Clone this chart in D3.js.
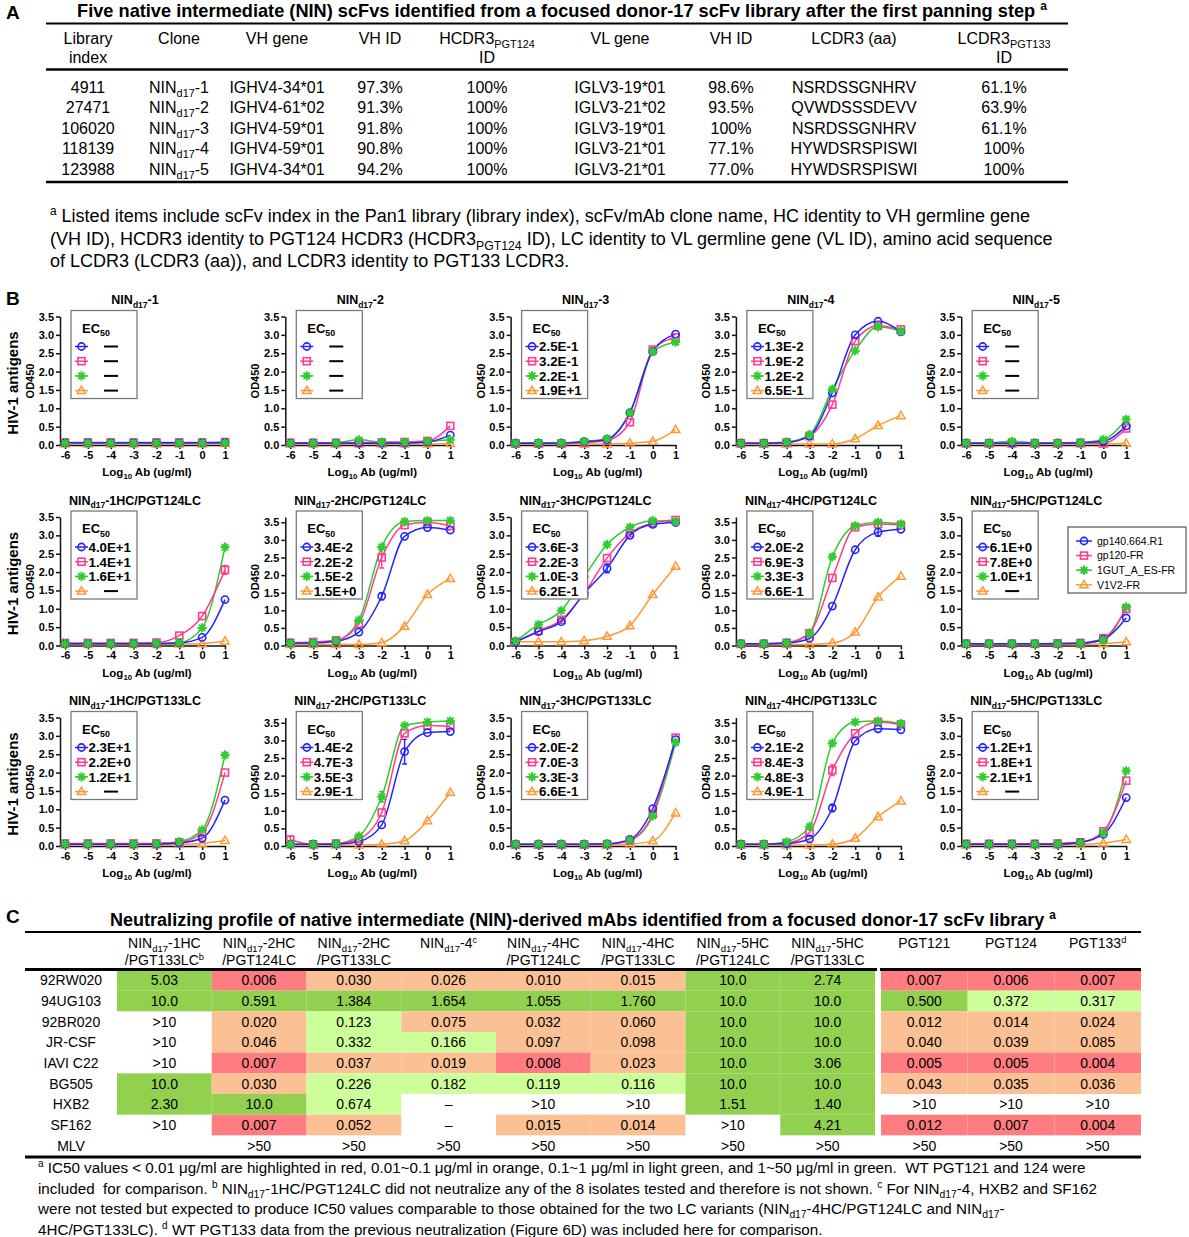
<!DOCTYPE html>
<html>
<head>
<meta charset="utf-8">
<script src="https://cdn.jsdelivr.net/npm/d3@7"></script>
<style>
  body { margin: 0; background: #fff; }
  svg { font-family: "Liberation Sans", Arial, sans-serif; }
  text { white-space: pre; }
</style>
</head>
<body>
<div id="fig"></div>
<script>
// ---------- Panel A data ----------
var libIndex = ["4911", "27471", "106020", "118139", "123988"];
var cloneNo = ["1", "2", "3", "4", "5"];
var vhGenes = ["IGHV4-34*01", "IGHV4-61*02", "IGHV4-59*01", "IGHV4-59*01", "IGHV4-34*01"];
var vhIds = ["97.3%", "91.3%", "91.8%", "90.8%", "94.2%"];
var hcdr3Ids = ["100%", "100%", "100%", "100%", "100%"];
var vlGenes = ["IGLV3-19*01", "IGLV3-21*02", "IGLV3-19*01", "IGLV3-21*01", "IGLV3-21*01"];
var vlIds = ["98.6%", "93.5%", "100%", "77.1%", "77.0%"];
var lcdr3Seqs = ["NSRDSSGNHRV", "QVWDSSSDEVV", "NSRDSSGNHRV", "HYWDSRSPISWI", "HYWDSRSPISWI"];
var lcdr3Ids = ["61.1%", "63.9%", "61.1%", "100%", "100%"];
var headersA = [
  [["Library"], ["index"]], [["Clone"]], [["VH gene"]], [["VH ID"]],
  [["HCDR3", "_PGT124"], ["ID"]], [["VL gene"]], [["VH ID"]], [["LCDR3 (aa)"]],
  [["LCDR3", "_PGT133"], ["ID"]]
];

// ---------- Panel B data ----------
var logDoses = [-6, -5, -4, -3, -2, -1, 0, 1];
var antigens = ["gp140.664.R1", "gp120-FR", "1GUT_A_ES-FR", "V1V2-FR"];
var panelTitles = ["-1", "-2", "-3", "-4", "-5",
  "-1HC/PGT124LC", "-2HC/PGT124LC", "-3HC/PGT124LC", "-4HC/PGT124LC", "-5HC/PGT124LC",
  "-1HC/PGT133LC", "-2HC/PGT133LC", "-3HC/PGT133LC", "-4HC/PGT133LC", "-5HC/PGT133LC"];
var yMaxes = [3.5, 3.5, 3.5, 3.5, 3.5, 3.5, 3.65, 3.5, 3.65, 3.5, 3.5, 3.65, 3.5, 3.65, 3.5];
var ec50 = [
  [null, null, null, null],
  [null, null, null, null],
  ["2.5E-1", "3.2E-1", "2.2E-1", "1.9E+1"],
  ["1.3E-2", "1.9E-2", "1.2E-2", "6.5E-1"],
  [null, null, null, null],
  ["4.0E+1", "1.4E+1", "1.6E+1", null],
  ["3.4E-2", "2.2E-2", "1.5E-2", "1.5E+0"],
  ["3.6E-3", "2.2E-3", "1.0E-3", "6.2E-1"],
  ["2.0E-2", "6.9E-3", "3.3E-3", "6.6E-1"],
  ["6.1E+0", "7.8E+0", "1.0E+1", null],
  ["2.3E+1", "2.2E+0", "1.2E+1", null],
  ["1.4E-2", "4.7E-3", "3.5E-3", "2.9E-1"],
  ["2.0E-2", "7.0E-3", "3.3E-3", "6.6E-1"],
  ["2.1E-2", "8.4E-3", "4.8E-3", "4.9E-1"],
  ["1.2E+1", "1.8E+1", "2.1E+1", null]
];
// OD450 per panel: [gp140, gp120, 1GUT, V1V2], each at logDoses
var od = [
  [[0.06,0.06,0.06,0.06,0.06,0.06,0.06,0.07],[0.07,0.07,0.07,0.07,0.07,0.07,0.07,0.08],[0.05,0.05,0.05,0.05,0.05,0.05,0.05,0.06],[0.03,0.03,0.03,0.03,0.03,0.03,0.03,0.04]],
  [[0.05,0.05,0.05,0.05,0.05,0.05,0.08,0.27],[0.06,0.06,0.06,0.07,0.07,0.08,0.11,0.52],[0.05,0.05,0.06,0.14,0.08,0.08,0.10,0.14],[0.03,0.03,0.03,0.03,0.03,0.03,0.03,0.04]],
  [[0.05,0.05,0.05,0.09,0.15,0.88,2.55,3.02],[0.04,0.04,0.04,0.06,0.12,0.62,2.60,2.93],[0.05,0.06,0.06,0.10,0.17,0.88,2.54,2.80],[0.03,0.03,0.03,0.03,0.03,0.05,0.10,0.42]],
  [[0.05,0.05,0.07,0.25,1.42,3.00,3.37,3.08],[0.05,0.05,0.07,0.24,1.10,2.83,3.25,3.15],[0.05,0.05,0.08,0.28,1.52,2.57,3.22,3.10],[0.03,0.03,0.03,0.03,0.03,0.17,0.53,0.80]],
  [[0.05,0.05,0.05,0.05,0.05,0.06,0.10,0.52],[0.05,0.05,0.05,0.05,0.05,0.06,0.05,0.45],[0.06,0.06,0.10,0.06,0.06,0.07,0.15,0.70],[0.03,0.03,0.03,0.03,0.03,0.03,0.03,0.05]],
  [[0.05,0.05,0.05,0.05,0.05,0.07,0.22,1.25],[0.07,0.07,0.07,0.07,0.08,0.27,0.80,2.06],[0.05,0.05,0.05,0.05,0.06,0.08,0.48,2.68],[0.03,0.03,0.03,0.03,0.03,0.04,0.05,0.12]],
  [[0.07,0.07,0.12,0.38,1.40,3.10,3.35,3.28],[0.08,0.10,0.15,0.62,2.50,3.42,3.50,3.40],[0.07,0.08,0.14,0.72,2.80,3.52,3.55,3.55],[0.03,0.03,0.03,0.03,0.08,0.55,1.45,1.90]],
  [[0.10,0.38,0.65,1.42,2.10,3.00,3.30,3.35],[0.10,0.40,0.70,1.42,2.38,3.06,3.34,3.42],[0.12,0.57,0.95,1.87,2.75,3.22,3.40,3.38],[0.10,0.10,0.10,0.13,0.25,0.54,1.39,2.16]],
  [[0.05,0.05,0.07,0.20,1.12,2.72,3.22,3.30],[0.05,0.05,0.08,0.35,1.92,3.36,3.45,3.42],[0.05,0.05,0.07,0.35,2.52,3.40,3.50,3.45],[0.03,0.03,0.03,0.03,0.07,0.38,1.38,1.97]],
  [[0.05,0.05,0.05,0.05,0.05,0.06,0.17,0.75],[0.05,0.05,0.05,0.05,0.06,0.07,0.20,1.00],[0.05,0.05,0.05,0.05,0.05,0.06,0.15,1.05],[0.03,0.03,0.03,0.03,0.03,0.03,0.05,0.10]],
  [[0.05,0.05,0.05,0.05,0.05,0.08,0.21,1.25],[0.07,0.07,0.07,0.07,0.07,0.10,0.36,2.00],[0.06,0.06,0.06,0.06,0.07,0.12,0.44,2.48],[0.03,0.03,0.03,0.03,0.03,0.04,0.07,0.15]],
  [[0.05,0.05,0.06,0.13,0.60,2.68,3.22,3.25],[0.18,0.05,0.07,0.20,0.95,3.20,3.42,3.40],[0.05,0.05,0.07,0.28,1.40,3.42,3.52,3.55],[0.03,0.03,0.03,0.03,0.05,0.15,0.72,1.52]],
  [[0.05,0.05,0.05,0.05,0.06,0.18,1.02,2.90],[0.04,0.04,0.04,0.04,0.05,0.15,0.88,2.95],[0.05,0.05,0.05,0.05,0.06,0.16,0.82,2.82],[0.03,0.03,0.03,0.03,0.03,0.05,0.14,0.90]],
  [[0.05,0.05,0.07,0.20,1.08,2.98,3.33,3.30],[0.05,0.05,0.08,0.38,2.15,3.20,3.52,3.45],[0.05,0.05,0.12,0.55,2.92,3.52,3.55,3.48],[0.03,0.03,0.03,0.03,0.05,0.22,0.83,1.28]],
  [[0.05,0.05,0.05,0.05,0.05,0.10,0.32,1.32],[0.06,0.06,0.06,0.06,0.07,0.10,0.40,1.78],[0.05,0.05,0.05,0.05,0.06,0.09,0.36,2.05],[0.03,0.03,0.03,0.03,0.03,0.04,0.08,0.18]]
];
// error bars: [panel, series, dose index, sd]
var odErr = [[5,1,7,0.12],[6,1,4,0.30],[6,0,4,0.10],[7,0,4,0.12],[8,0,6,0.12],
  [11,0,5,0.35],[11,2,4,0.15],[11,1,0,0.10],[13,0,4,0.10],[13,1,4,0.15]];

// ---------- Panel C data ----------
var strains = ["92RW020", "94UG103", "92BR020", "JR-CSF", "IAVI C22", "BG505", "HXB2", "SF162", "MLV"];
var mAbHeads = [
  [["NIN", "_d17", "-1HC"], ["/PGT133LC", "^b"]],
  [["NIN", "_d17", "-2HC"], ["/PGT124LC"]],
  [["NIN", "_d17", "-2HC"], ["/PGT133LC"]],
  [["NIN", "_d17", "-4", "^c"]],
  [["NIN", "_d17", "-4HC"], ["/PGT124LC"]],
  [["NIN", "_d17", "-4HC"], ["/PGT133LC"]],
  [["NIN", "_d17", "-5HC"], ["/PGT124LC"]],
  [["NIN", "_d17", "-5HC"], ["/PGT133LC"]],
  [["PGT121"]], [["PGT124"]], [["PGT133", "^d"]]
];
var ic50 = [
  ["5.03", "0.006", "0.030", "0.026", "0.010", "0.015", "10.0", "2.74", "0.007", "0.006", "0.007"],
  ["10.0", "0.591", "1.384", "1.654", "1.055", "1.760", "10.0", "10.0", "0.500", "0.372", "0.317"],
  [">10", "0.020", "0.123", "0.075", "0.032", "0.060", "10.0", "10.0", "0.012", "0.014", "0.024"],
  [">10", "0.046", "0.332", "0.166", "0.097", "0.098", "10.0", "10.0", "0.040", "0.039", "0.085"],
  [">10", "0.007", "0.037", "0.019", "0.008", "0.023", "10.0", "3.06", "0.005", "0.005", "0.004"],
  ["10.0", "0.030", "0.226", "0.182", "0.119", "0.116", "10.0", "10.0", "0.043", "0.035", "0.036"],
  ["2.30", "10.0", "0.674", "\u2013", ">10", ">10", "1.51", "1.40", ">10", ">10", ">10"],
  [">10", "0.007", "0.052", "\u2013", "0.015", "0.014", ">10", "4.21", "0.012", "0.007", "0.004"],
  ["", ">50", ">50", ">50", ">50", ">50", ">50", ">50", ">50", ">50", ">50"]
];
// highlight tier as printed: r red, o orange, l light green, g green, - none
var tiers = [
  "grooooggrrr",
  "gggggggggll",
  "-oloooggooo",
  "-ollooggooo",
  "-rooroggrrr",
  "gollllggooo",
  "ggl---gg---",
  "-ro-oo-grrr",
  "-----------"
];

// ---------- helpers ----------
function rich(t, tokens, fs) {
  var cur = 0;
  tokens.forEach(function(tok) {
    var k = tok.charAt(0), s = tok, off = 0, size = fs;
    if (k === "_") { s = tok.slice(1); off = fs * 0.28; size = fs * 0.68; }
    else if (k === "^") { s = tok.slice(1); off = -fs * 0.38; size = fs * 0.66; }
    t.append("tspan").attr("dy", off - cur).attr("font-size", size).text(s);
    cur = off;
  });
  return t;
}

var svg = d3.select("#fig").append("svg")
  .attr("width", 1189)
  .attr("height", 1237);
svg.append("rect").attr("width", 1189).attr("height", 1237).attr("fill", "#fff");

// ================= Panel A =================
var gA = svg.append("g");
gA.append("text").attr("x", 6).attr("y", 19).attr("font-size", 19).attr("font-weight", "bold").text("A");
rich(gA.append("text").attr("x", 562).attr("y", 17).attr("text-anchor", "middle")
  .attr("font-size", 18.2).attr("font-weight", "bold"),
  ["Five native intermediate (NIN) scFvs identified from a focused donor-17 scFv library after the first panning step ", "^a"], 18.2);

var colA = [88, 179, 277, 380, 487, 620, 731, 854, 1004];
[[23.5, 2], [69.5, 2.5], [182, 2.5]].forEach(function(r) {
  gA.append("line").attr("x1", 46).attr("x2", 1068).attr("y1", r[0]).attr("y2", r[0])
    .attr("stroke", "#000").attr("stroke-width", r[1]);
});
headersA.forEach(function(h, j) {
  h.forEach(function(line, k) {
    rich(gA.append("text").attr("x", colA[j]).attr("y", 44 + k * 19).attr("text-anchor", "middle")
      .attr("font-size", 16), line, 16);
  });
});
var rowsA = libIndex.map(function(d, i) {
  return [[d], ["NIN", "_d17", "-" + cloneNo[i]], [vhGenes[i]], [vhIds[i]], [hcdr3Ids[i]],
    [vlGenes[i]], [vlIds[i]], [lcdr3Seqs[i]], [lcdr3Ids[i]]];
});
rowsA.forEach(function(row, i) {
  row.forEach(function(cell, j) {
    rich(gA.append("text").attr("x", colA[j]).attr("y", 92.5 + i * 20.5).attr("text-anchor", "middle")
      .attr("font-size", 16), cell, 16);
  });
});
var footA = [
  ["^a", " Listed items include scFv index in the Pan1 library (library index), scFv/mAb clone name, HC identity to VH germline gene"],
  ["(VH ID), HCDR3 identity to PGT124 HCDR3 (HCDR3", "_PGT124", " ID), LC identity to VL germline gene (VL ID), amino acid sequence"],
  ["of LCDR3 (LCDR3 (aa)), and LCDR3 identity to PGT133 LCDR3."]
];
footA.forEach(function(line, i) {
  rich(gA.append("text").attr("x", 50).attr("y", 222 + i * 22.5).attr("font-size", 18), line, 18);
});

// ================= Panel B =================
var gB = svg.append("g");
gB.append("text").attr("x", 6).attr("y", 305).attr("font-size", 19).attr("font-weight", "bold").text("B");

var colors = ["#2323ff", "#ff3d8e", "#2ecc2e", "#ff9933"];
var colX0 = 60, colStep = 225.3, rowY0 = 445, rowStep = 200.5, plotH = 128.5, plotW = 165;

function marker(g, s, x, y, c) {
  if (s === 0) {
    g.append("circle").attr("cx", x).attr("cy", y).attr("r", 3.6)
      .attr("fill", "none").attr("stroke", c).attr("stroke-width", 1.6);
  } else if (s === 1) {
    g.append("rect").attr("x", x - 3.5).attr("y", y - 3.5).attr("width", 7).attr("height", 7)
      .attr("fill", "none").attr("stroke", c).attr("stroke-width", 1.6);
  } else if (s === 2) {
    var d = "";
    [0, 45, 90, 135].forEach(function(a) {
      var r = a * Math.PI / 180, dx = 4.6 * Math.cos(r), dy = 4.6 * Math.sin(r);
      d += "M" + (x - dx) + "," + (y - dy) + "L" + (x + dx) + "," + (y + dy);
    });
    g.append("path").attr("d", d).attr("stroke", c).attr("stroke-width", 2);
  } else {
    g.append("path").attr("d", "M" + x + "," + (y - 4.4) + "L" + (x - 4.2) + "," + (y + 3) + "L" + (x + 4.2) + "," + (y + 3) + "Z")
      .attr("fill", "none").attr("stroke", c).attr("stroke-width", 1.5);
  }
}

function styleAxis(g) {
  g.selectAll(".domain").attr("stroke", "#111").attr("stroke-width", 1.5);
  g.selectAll(".tick line").attr("stroke", "#111").attr("stroke-width", 1.5);
  g.selectAll(".tick text").attr("fill", "#000").attr("font-size", 11).attr("font-weight", "bold")
    .attr("font-family", "Liberation Sans, Arial, sans-serif");
}

od.forEach(function(series, p) {
  var r = Math.floor(p / 5), c = p % 5;
  var ax = colX0 + colStep * c, y0 = rowY0 + rowStep * r, yTop = y0 - plotH;
  var g = gB.append("g");

  var x = d3.scaleLinear().domain([-6.22, 1]).range([ax, ax + plotW]);
  var y = d3.scaleLinear().domain([0, yMaxes[p]]).range([y0, yTop]);

  var gx = g.append("g").attr("transform", "translate(0," + y0 + ")")
    .call(d3.axisBottom(x).tickValues(logDoses).tickFormat(function(d) { return String(d); })
      .tickSize(4).tickSizeOuter(0).tickPadding(2));
  styleAxis(gx);
  var gy = g.append("g").attr("transform", "translate(" + ax + ",0)")
    .call(d3.axisLeft(y).tickValues(d3.range(0, 3.51, 0.5)).tickFormat(d3.format(".1f"))
      .tickSize(4).tickSizeOuter(0).tickPadding(2));
  styleAxis(gy);

  // titles
  rich(g.append("text").attr("x", ax + 75).attr("y", y0 - 141).attr("text-anchor", "middle")
    .attr("font-size", 12.5).attr("font-weight", "bold"), ["NIN", "_d17", panelTitles[p]], 12.5);
  g.append("text").attr("transform", "translate(" + (ax - 26) + "," + (y0 - 64) + ") rotate(-90)")
    .attr("text-anchor", "middle").attr("font-size", 11).attr("font-weight", "bold").text("OD450");
  rich(g.append("text").attr("x", ax + 87).attr("y", y0 + 31).attr("text-anchor", "middle")
    .attr("font-size", 11.5).attr("font-weight", "bold"), ["Log", "_10", " Ab (ug/ml)"], 11.5);

  // curves
  var line = d3.line()
    .x(function(d, i) { return x(logDoses[i]); })
    .y(function(d) { return y(d); })
    .curve(d3.curveMonotoneX);
  [3, 2, 1, 0].forEach(function(s) {
    g.append("path").attr("d", line(series[s])).attr("fill", "none")
      .attr("stroke", colors[s]).attr("stroke-width", 1.5);
  });
  odErr.filter(function(e) { return e[0] === p; }).forEach(function(e) {
    var xx = x(logDoses[e[2]]), v = series[e[1]][e[2]];
    var ya = y(v - e[3]), yb = y(v + e[3]);
    g.append("path").attr("d", "M" + xx + "," + ya + "V" + yb + "M" + (xx - 2.5) + "," + ya + "h5M" + (xx - 2.5) + "," + yb + "h5")
      .attr("stroke", colors[e[1]]).attr("stroke-width", 1.4).attr("fill", "none");
  });
  [3, 1, 0, 2].forEach(function(s) {
    series[s].forEach(function(v, i) { marker(g, s, x(logDoses[i]), y(v), colors[s]); });
  });

  // EC50 legend
  var lg = g.append("g");
  lg.append("rect").attr("x", ax + 11).attr("y", yTop - 6).attr("width", 66).attr("height", 88)
    .attr("fill", "#fff").attr("stroke", "#7a7a7a").attr("stroke-width", 1.3);
  rich(lg.append("text").attr("x", ax + 22).attr("y", yTop + 16).attr("font-size", 13)
    .attr("font-weight", "bold"), ["EC", "_50"], 13);
  ec50[p].forEach(function(val, s) {
    var yy = yTop + 30 + 14.7 * s;
    lg.append("line").attr("x1", ax + 15).attr("x2", ax + 28).attr("y1", yy).attr("y2", yy)
      .attr("stroke", colors[s]).attr("stroke-width", 1.5);
    marker(lg, s, ax + 21.5, yy, colors[s]);
    if (val === null) {
      lg.append("line").attr("x1", ax + 44).attr("x2", ax + 58).attr("y1", yy).attr("y2", yy)
        .attr("stroke", "#000").attr("stroke-width", 2);
    } else {
      lg.append("text").attr("x", ax + 28.5).attr("y", yy + 4.8).attr("font-size", 13.3)
        .attr("font-weight", "bold").text(val);
    }
  });
});

// row labels
[0, 1, 2].forEach(function(r) {
  gB.append("text").attr("transform", "translate(18," + (rowY0 + rowStep * r - 62) + ") rotate(-90)")
    .attr("text-anchor", "middle").attr("font-size", 15).attr("font-weight", "bold").text("HIV-1 antigens");
});

// antigen legend
var big = gB.append("g");
big.append("rect").attr("x", 1068).attr("y", 527).attr("width", 118).attr("height", 66)
  .attr("fill", "#fff").attr("stroke", "#555").attr("stroke-width", 1.2);
antigens.forEach(function(name, s) {
  var yy = 541 + 14.6 * s;
  big.append("line").attr("x1", 1076).attr("x2", 1092).attr("y1", yy).attr("y2", yy)
    .attr("stroke", colors[s]).attr("stroke-width", 1.5);
  marker(big, s, 1084, yy, colors[s]);
  big.append("text").attr("x", 1097).attr("y", yy + 3.8).attr("font-size", 10.5).text(name);
});

// ================= Panel C =================
var gC = svg.append("g");
gC.append("text").attr("x", 6).attr("y", 923).attr("font-size", 19).attr("font-weight", "bold").text("C");
rich(gC.append("text").attr("x", 583).attr("y", 926).attr("text-anchor", "middle")
  .attr("font-size", 18).attr("font-weight", "bold"),
  ["Neutralizing profile of native intermediate (NIN)-derived mAbs identified from a focused donor-17 scFv library ", "^a"], 18);

var ninX = d3.scaleBand().domain(d3.range(8)).range([117, 875]);
var wtX = d3.scaleBand().domain(d3.range(3)).range([881, 1141]);
function colLeft(j) { return j < 8 ? ninX(j) : wtX(j - 8); }
function colW(j) { return j < 8 ? ninX.bandwidth() : wtX.bandwidth(); }
var rowY = d3.scaleBand().domain(strains).range([970, 1156]);
var tierColor = d3.scaleOrdinal().domain(["r", "o", "l", "g"])
  .range(["#ff7c80", "#fbc093", "#ccff99", "#92d050"]);

strains.forEach(function(st, i) {
  var yc = rowY(st) + rowY.bandwidth() / 2;
  gC.append("text").attr("x", 71).attr("y", yc + 5).attr("text-anchor", "middle")
    .attr("font-size", 14).text(st);
  ic50[i].forEach(function(v, j) {
    var t = tiers[i].charAt(j);
    if (t !== "-") {
      gC.append("rect").attr("x", colLeft(j)).attr("y", rowY(st)).attr("width", colW(j))
        .attr("height", rowY.bandwidth()).attr("fill", tierColor(t));
    }
    gC.append("text").attr("x", colLeft(j) + colW(j) / 2).attr("y", yc + 5)
      .attr("text-anchor", "middle").attr("font-size", 14).text(v);
  });
});
mAbHeads.forEach(function(h, j) {
  h.forEach(function(line, k) {
    rich(gC.append("text").attr("x", colLeft(j) + colW(j) / 2).attr("y", 948 + k * 17)
      .attr("text-anchor", "middle").attr("font-size", 14), line, 14);
  });
});
[[932, 25, 1141, 2], [969.5, 25, 877, 3], [969.5, 880, 1141, 3], [1157, 25, 1141, 3]].forEach(function(r) {
  gC.append("line").attr("x1", r[1]).attr("x2", r[2]).attr("y1", r[0]).attr("y2", r[0])
    .attr("stroke", "#000").attr("stroke-width", r[3]);
});
var footC = [
  ["^a", " IC50 values < 0.01 \u03bcg/ml are highlighted in red, 0.01~0.1 \u03bcg/ml in orange, 0.1~1 \u03bcg/ml in light green, and 1~50 \u03bcg/ml in green.  WT PGT121 and 124 were"],
  ["included  for comparison. ", "^b", " NIN", "_d17", "-1HC/PGT124LC did not neutralize any of the 8 isolates tested and therefore is not shown. ", "^c", " For NIN", "_d17", "-4, HXB2 and SF162"],
  ["were not tested but expected to produce IC50 values comparable to those obtained for the two LC variants (NIN", "_d17", "-4HC/PGT124LC and NIN", "_d17", "-"],
  ["4HC/PGT133LC). ", "^d", " WT PGT133 data from the previous neutralization (Figure 6D) was included here for comparison."]
];
footC.forEach(function(line, i) {
  rich(gC.append("text").attr("x", 38).attr("y", 1173 + i * 20.5).attr("font-size", 15.2), line, 15.2);
});
</script>
</body>
</html>
